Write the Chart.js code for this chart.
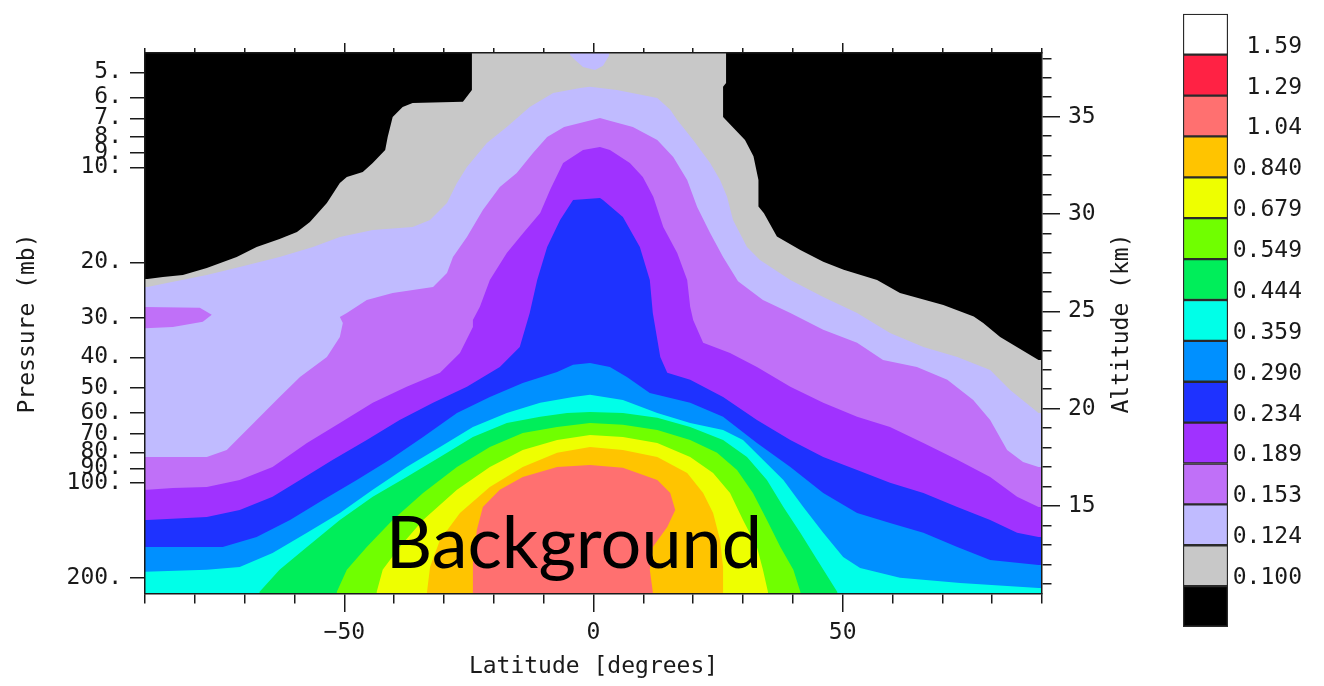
<!DOCTYPE html>
<html>
<head>
<meta charset="utf-8">
<title>Ozone mixing ratio, latitude-pressure section</title>
<script src="https://cdn.jsdelivr.net/npm/chart.js@4.4.1/dist/chart.umd.min.js"></script>
<style>
  html, body { margin: 0; padding: 0; background: #fff; }
  #wrap { position: relative; width: 1324px; height: 686px; overflow: hidden; }
  #main { position: absolute; left: 0; top: 0; }
  #key  { position: absolute; left: 1160px; top: 0; }
</style>
</head>
<body>
<div id="wrap">
  <canvas id="main" width="1324" height="686"></canvas>
  <canvas id="key" width="164" height="686"></canvas>
</div>
<script>
// ---------------------------------------------------------------------------
// Contour levels of the field (class boundaries shown in the colour key)
const LEVEL_VALUES = ['0.100', '0.124', '0.153', '0.189', '0.234', '0.290', '0.359',
                      '0.444', '0.549', '0.679', '0.840', '1.04', '1.29', '1.59'];

// Axis ranges and ticks
const LAT_RANGE      = [-90, 90];
const LAT_TICKS      = [-90, -80, -70, -60, -50, -40, -30, -20, -10, 0, 10, 20, 30, 40, 50, 60, 70, 80, 90];
const LAT_LABELLED   = [-50, 0, 50];
const PRESSURE_RANGE = [4.344, 224.9];          // mb, top to bottom of the panel
const PRESSURE_TICKS = [5, 6, 7, 8, 9, 10, 20, 30, 40, 50, 60, 70, 80, 90, 100, 200];
const ALT_RANGE      = [10.48, 38.27];          // km, bottom to top of the panel
const ALT_TICKS      = [11, 12, 13, 14, 15, 16, 17, 18, 19, 20, 21, 22, 23, 24, 25,
                        26, 27, 28, 29, 30, 31, 32, 33, 34, 35, 36, 37, 38];
const ALT_LABELLED   = [15, 20, 25, 30, 35];

// Filled regions: each polygon encloses the area where the field is at or above
// the named level. Points are [latitude (deg), altitude (km)].
const REGION_0100 = [
  [-92, 26.66], [-89.5, 26.66], [-86.4, 26.77], [-82.4, 26.87], [-77.6, 27.23], [-71.6, 27.79],
  [-67.6, 28.31], [-63.0, 28.72], [-59.5, 29.08], [-56.9, 29.59], [-53.5, 30.57], [-50.9, 31.59],
  [-49.5, 31.90], [-46.3, 32.16], [-44.3, 32.62], [-41.8, 33.29], [-41.3, 33.96], [-40.3, 34.98],
  [-38.3, 35.50], [-36.3, 35.70], [-26.2, 35.76], [-24.4, 36.37], [-24.4, 39],
  [26.6, 39], [26.6, 36.73], [26.0, 36.53], [26.0, 34.98], [30.4, 33.80], [32.1, 32.96],
  [33.1, 31.75], [33.1, 30.39], [34.2, 30.04], [36.8, 28.84], [41.5, 28.15], [46.1, 27.55],
  [50.2, 27.13], [56.9, 26.61], [61.5, 25.94], [70.2, 25.33], [76.3, 24.73], [78.2, 24.40],
  [81.6, 23.68], [89.3, 22.50], [92, 22.50], [92, 9], [-92, 9]
];
const REGION_0124 = [
  [-92, 26.25], [-89.5, 26.25], [-85.6, 26.46], [-77.6, 26.87], [-71.0, 27.28], [-63.0, 27.79],
  [-56.3, 28.31], [-50.9, 28.82], [-44.3, 29.18], [-36.3, 29.33], [-32.8, 29.69], [-29.4, 30.57],
  [-27.4, 31.59], [-25.4, 32.42], [-21.4, 33.65], [-17.4, 34.47], [-12.8, 35.50], [-8.1, 36.22],
  [-2.7, 36.47], [-0.7, 36.53], [4.7, 36.37], [12.8, 35.96], [15.4, 35.35], [16.8, 34.83],
  [20.0, 33.80], [23.4, 32.62], [25.4, 31.75], [26.8, 30.88], [28.0, 29.69], [30.8, 28.31],
  [33.4, 27.64], [39.5, 26.61], [46.1, 25.74], [52.9, 24.92], [59.5, 23.89], [66.2, 23.17],
  [73.0, 22.66], [79.6, 21.99], [83.6, 20.96], [89.3, 19.78], [92, 19.78], [92, 9], [-92, 9]
];
const REGION_0124_CAP = [
  [-4.9, 39], [-4.7, 38.17], [-3.7, 37.91], [-2.1, 37.55], [0.3, 37.40], [1.9, 37.61],
  [3.1, 38.12], [3.3, 39]
];
const REGION_0153 = [
  [-92, 17.52], [-77.6, 17.52], [-73.6, 17.88], [-69.0, 19.06], [-63.0, 20.60], [-58.9, 21.63],
  [-53.5, 22.66], [-50.9, 23.68], [-50.3, 24.40], [-50.9, 24.71], [-49.5, 24.92], [-45.5, 25.58],
  [-40.3, 25.94], [-32.2, 26.25], [-29.4, 26.97], [-28.2, 27.79], [-25.4, 28.82], [-22.2, 30.21],
  [-18.8, 31.39], [-15.4, 32.11], [-12.1, 33.14], [-9.3, 33.96], [-5.9, 34.47], [1.3, 34.93],
  [2.7, 34.83], [7.9, 34.47], [12.8, 33.80], [16.0, 32.93], [18.8, 31.75], [20.8, 30.36],
  [23.4, 29.03], [26.0, 27.79], [29.0, 26.55], [34.0, 25.58], [39.5, 24.92], [46.1, 24.05],
  [52.9, 23.38], [58.1, 22.50], [64.9, 22.14], [71.0, 21.48], [76.2, 20.45], [79.6, 19.42],
  [83.0, 17.88], [86.2, 17.26], [89.3, 17.01], [92, 17.01], [92, 9], [-92, 9]
];
const REGION_0153_ISLAND = [
  [-92, 25.23], [-79.0, 25.18], [-76.6, 24.82], [-78.4, 24.46], [-84.4, 24.20], [-92, 24.10]
];
const REGION_0189 = [
  [-92, 15.83], [-89.5, 15.83], [-84.4, 15.93], [-77.6, 15.98], [-71.0, 16.34], [-64.4, 17.01],
  [-57.5, 18.24], [-50.9, 19.27], [-44.3, 20.30], [-37.5, 21.12], [-30.8, 21.84], [-26.8, 22.86],
  [-24.2, 24.20], [-24.2, 24.56], [-22.8, 25.23], [-20.8, 26.61], [-17.4, 28.00], [-14.1, 29.03],
  [-10.7, 30.05], [-8.7, 31.24], [-6.1, 32.62], [-2.1, 33.29], [1.3, 33.44], [3.3, 33.29],
  [7.3, 32.62], [9.9, 31.90], [12.0, 30.88], [14.0, 29.33], [16.8, 28.00], [18.8, 26.61],
  [19.4, 25.23], [20.0, 24.56], [22.0, 23.38], [27.4, 22.86], [32.8, 22.14], [39.5, 21.12],
  [46.1, 20.30], [52.9, 19.58], [59.5, 19.06], [66.2, 18.24], [73.0, 17.37], [79.6, 16.49],
  [85.0, 15.47], [89.3, 14.95], [92, 14.95], [92, 9], [-92, 9]
];
const REGION_0234 = [
  [-92, 14.28], [-89.5, 14.28], [-77.6, 14.44], [-71.0, 14.80], [-64.4, 15.47], [-58.9, 16.34],
  [-52.3, 17.37], [-45.5, 18.39], [-38.9, 19.42], [-32.2, 20.30], [-25.4, 21.12], [-18.8, 22.14],
  [-14.8, 23.17], [-12.8, 24.92], [-11.3, 26.61], [-9.3, 28.31], [-6.7, 29.69], [-4.1, 30.72],
  [1.3, 30.82], [1.9, 30.72], [5.9, 29.85], [9.3, 28.31], [11.3, 26.61], [11.9, 24.92],
  [13.4, 22.66], [14.8, 21.84], [19.4, 21.48], [26.0, 20.60], [32.8, 19.42], [39.5, 18.39],
  [46.1, 17.52], [52.9, 16.85], [59.5, 16.19], [66.2, 15.67], [73.0, 14.95], [79.6, 14.28],
  [85.0, 13.62], [89.3, 13.41], [92, 13.41], [92, 9], [-92, 9]
];
const REGION_0290 = [
  [-92, 12.90], [-74.4, 12.90], [-67.6, 13.41], [-60.9, 14.28], [-54.3, 15.31], [-47.5, 16.34],
  [-40.9, 17.37], [-34.2, 18.55], [-27.4, 19.78], [-20.8, 20.60], [-14.2, 21.32], [-7.3, 21.89],
  [-4.1, 22.25], [-0.7, 22.35], [3.3, 22.14], [6.7, 21.63], [11.3, 20.81], [19.4, 20.30],
  [26.0, 19.58], [32.8, 18.24], [39.5, 17.01], [46.1, 15.67], [52.9, 14.64], [59.5, 14.13],
  [66.2, 13.62], [73.0, 12.90], [79.6, 12.23], [89.3, 11.97], [92, 11.97], [92, 9], [-92, 9]
];
const REGION_0359 = [
  [-92, 11.61], [-77.6, 11.72], [-71.0, 11.87], [-64.4, 12.59], [-57.5, 13.62], [-50.9, 14.64],
  [-44.3, 15.83], [-37.5, 17.01], [-30.8, 18.03], [-24.2, 19.06], [-17.4, 19.78], [-10.7, 20.30],
  [-4.1, 20.60], [-0.7, 20.71], [5.9, 20.45], [12.8, 19.78], [19.4, 19.27], [26.0, 18.91],
  [30.0, 18.39], [34.0, 17.37], [38.1, 16.34], [42.1, 14.95], [46.1, 13.62], [50.1, 12.38],
  [53.5, 11.82], [61.5, 11.31], [73.6, 11.05], [89.3, 10.79], [92, 10.79], [92, 9], [-92, 9]
];
const REGION_0444 = [
  [-67.4, 9], [-67.0, 10.59], [-63.0, 11.72], [-57.5, 12.90], [-50.9, 14.28], [-44.3, 15.47],
  [-37.5, 16.49], [-30.8, 17.52], [-24.2, 18.55], [-17.4, 19.27], [-10.7, 19.58], [-5.3, 19.78],
  [-0.7, 19.83], [5.9, 19.78], [12.8, 19.53], [19.4, 19.06], [26.0, 18.39], [30.8, 17.52],
  [34.8, 16.34], [38.1, 14.95], [41.5, 13.62], [44.9, 12.23], [48.9, 10.59], [50.0, 9]
];
const REGION_0549 = [
  [-51.5, 9], [-51.5, 10.59], [-49.5, 11.72], [-45.5, 12.90], [-40.3, 14.28], [-34.2, 15.67],
  [-27.4, 17.01], [-20.8, 18.03], [-14.2, 18.75], [-7.3, 19.06], [-0.7, 19.27], [5.9, 19.17],
  [12.8, 18.91], [19.4, 18.39], [24.8, 17.73], [28.8, 16.85], [32.0, 15.67], [34.8, 14.28],
  [37.5, 12.90], [40.1, 11.72], [41.5, 10.59], [42.3, 9]
];
const REGION_0679 = [
  [-43.5, 9], [-43.5, 10.59], [-42.3, 11.72], [-38.9, 12.90], [-34.2, 14.28], [-27.4, 15.83],
  [-20.8, 17.01], [-14.2, 17.88], [-7.3, 18.39], [-0.7, 18.65], [5.9, 18.55], [12.8, 18.24],
  [19.4, 17.52], [24.0, 16.70], [27.4, 15.67], [30.0, 14.28], [32.8, 12.90], [34.0, 11.72],
  [35.0, 10.59], [35.6, 9]
];
const REGION_0840 = [
  [-33.4, 9], [-33.4, 10.59], [-32.8, 11.87], [-30.8, 13.26], [-26.8, 14.64], [-20.8, 15.98],
  [-14.2, 17.01], [-7.3, 17.73], [-0.7, 18.03], [5.9, 17.88], [12.8, 17.52], [18.8, 16.70],
  [22.0, 15.67], [24.0, 14.64], [25.4, 13.26], [26.0, 11.87], [26.0, 10.59], [26.0, 9]
];
const REGION_1040 = [
  [-24.2, 9], [-24.2, 12.08], [-23.4, 13.78], [-22.2, 14.95], [-18.8, 15.83], [-14.2, 16.49],
  [-7.3, 17.01], [-0.7, 17.11], [5.9, 16.96], [12.8, 16.34], [15.4, 15.67], [16.4, 14.80],
  [14.8, 13.92], [11.9, 12.90], [11.3, 11.72], [11.9, 10.59], [11.9, 9]
];

// Text overlaid on the panel, anchored in data coordinates
const PANEL_NOTE = { text: 'Background', lat: -41.7, km: 11.82 };

// ---------------------------------------------------------------------------
// Colour classes, lowest (below 0.100) first
const CLASS_COLORS = ['#000000', '#c8c8c8', '#c0bbff', '#c070f8', '#a032ff', '#1e32ff', '#0090ff',
                      '#00ffe8', '#00ee5a', '#70ff00', '#eeff00', '#ffc400', '#ff7070', '#ff2244', '#ffffff'];
const INK = '#1a1a1a';
const AXIS_FONT = { family: 'DejaVu Sans Mono', size: 23, weight: 'normal' };

// region list: polygon and the colour class it fills (class = level index + 1)
const REGIONS = [
  { pts: REGION_0100, cls: 1 },
  { pts: REGION_0124, cls: 2 },
  { pts: REGION_0124_CAP, cls: 2 },
  { pts: REGION_0153, cls: 3 },
  { pts: REGION_0153_ISLAND, cls: 3 },
  { pts: REGION_0189, cls: 4 },
  { pts: REGION_0234, cls: 5 },
  { pts: REGION_0290, cls: 6 },
  { pts: REGION_0359, cls: 7 },
  { pts: REGION_0444, cls: 8 },
  { pts: REGION_0549, cls: 9 },
  { pts: REGION_0679, cls: 10 },
  { pts: REGION_0840, cls: 11 },
  { pts: REGION_1040, cls: 12 }
];

Chart.defaults.font.family = 'DejaVu Sans Mono';
Chart.defaults.color = INK;

const datasets = REGIONS.map((r, i) => ({
  data: r.pts.map(([x, y]) => ({ x, y })),
  xAxisID: 'x',
  yAxisID: 'yAlt',
  backgroundColor: CLASS_COLORS[r.cls],
  borderColor: 'rgba(0,0,0,0)',
  borderWidth: 0,
  pointRadius: 0,
  tension: 0,
  fill: 'shape',
  order: REGIONS.length - i      // higher levels painted last
}));

// black fill for the "below lowest level" class
const panelBackground = {
  id: 'panelBackground',
  beforeDatasetsDraw(chart) {
    const { ctx, chartArea: a } = chart;
    ctx.save();
    ctx.fillStyle = CLASS_COLORS[0];
    ctx.fillRect(a.left, a.top, a.right - a.left, a.bottom - a.top);
    ctx.restore();
  }
};

// right-hand axis title, reading upward like the left one
const altitudeTitle = {
  id: 'altitudeTitle',
  afterDraw(chart) {
    const s = chart.scales.yAlt;
    const { ctx } = chart;
    ctx.save();
    ctx.translate(s.left + 80, (s.top + s.bottom) / 2);
    ctx.rotate(-Math.PI / 2);
    ctx.font = `${AXIS_FONT.size}px ${AXIS_FONT.family}`;
    ctx.fillStyle = INK;
    ctx.textAlign = 'center';
    ctx.textBaseline = 'middle';
    ctx.fillText('Altitude (km)', 0, 0);
    ctx.restore();
  }
};

const panelNote = {
  id: 'panelNote',
  afterDraw(chart) {
    const { ctx, scales } = chart;
    ctx.save();
    ctx.font = '72px Lato, "Open Sans", sans-serif';
    ctx.fillStyle = '#000';
    ctx.textAlign = 'left';
    ctx.textBaseline = 'alphabetic';
    ctx.fillText(PANEL_NOTE.text, scales.x.getPixelForValue(PANEL_NOTE.lat), scales.yAlt.getPixelForValue(PANEL_NOTE.km));
    ctx.restore();
  }
};

const minorDash = (labelled, dash) => (c) =>
  (c.tick && !labelled.includes(c.tick.value)) ? dash : [];

const border = { display: true, color: INK, width: 1.5, z: 1 };

new Chart(document.getElementById('main'), {
  type: 'line',
  data: { datasets },
  plugins: [panelBackground, altitudeTitle, panelNote],
  options: {
    responsive: false,
    animation: false,
    devicePixelRatio: 1,
    events: [],
    layout: { padding: 0 },
    plugins: { legend: { display: false }, tooltip: { enabled: false } },
    scales: {
      x: {
        type: 'linear', position: 'bottom', min: LAT_RANGE[0], max: LAT_RANGE[1],
        afterBuildTicks: (s) => { s.ticks = LAT_TICKS.map((v) => ({ value: v })); },
        afterFit: (s) => { s.height = 92; },
        grid: { drawOnChartArea: false, color: INK, lineWidth: 1.5, tickLength: 18,
                tickBorderDash: minorDash(LAT_LABELLED, [9, 100]) },
        border,
        ticks: {
          autoSkip: false, maxRotation: 0, padding: 7, color: INK, font: AXIS_FONT,
          callback: (v) => LAT_LABELLED.includes(v) ? String(v).replace('-', '\u2212') : ''
        },
        title: { display: true, text: 'Latitude [degrees]', color: INK, font: AXIS_FONT,
                 padding: { top: 0, bottom: 5 } }
      },
      xTop: {
        type: 'linear', position: 'top', min: LAT_RANGE[0], max: LAT_RANGE[1],
        afterBuildTicks: (s) => { s.ticks = LAT_TICKS.map((v) => ({ value: v })); },
        afterFit: (s) => { s.height = 53; },
        grid: { drawOnChartArea: false, color: INK, lineWidth: 1.5, tickLength: 10,
                tickBorderDash: minorDash(LAT_LABELLED, [0, 5, 5, 100]) },
        border,
        ticks: { display: false }
      },
      yP: {
        type: 'logarithmic', position: 'left', reverse: true,
        min: PRESSURE_RANGE[0], max: PRESSURE_RANGE[1],
        afterBuildTicks: (s) => { s.ticks = PRESSURE_TICKS.map((v) => ({ value: v })); },
        afterFit: (s) => { s.width = 145; },
        grid: { drawOnChartArea: false, color: INK, lineWidth: 1.5, tickLength: 15 },
        border,
        ticks: { autoSkip: false, padding: 8, color: INK, font: AXIS_FONT, callback: (v) => v + '.' },
        title: { display: true, text: 'Pressure (mb)', color: INK, font: AXIS_FONT,
                 padding: { top: 14, bottom: 0 } }
      },
      yAlt: {
        type: 'linear', position: 'right', min: ALT_RANGE[0], max: ALT_RANGE[1],
        afterBuildTicks: (s) => { s.ticks = ALT_TICKS.map((v) => ({ value: v })); },
        afterFit: (s) => { s.width = 282; },
        grid: { drawOnChartArea: false, color: INK, lineWidth: 1.5, tickLength: 18,
                tickBorderDash: minorDash(ALT_LABELLED, [9, 100]) },
        border,
        ticks: { autoSkip: false, padding: 8, color: INK, font: AXIS_FONT,
                 callback: (v) => ALT_LABELLED.includes(v) ? String(v) : '' }
      }
    }
  }
});

// ---------------------------------------------------------------------------
// Colour key: one stacked box per class, level values at the box boundaries
new Chart(document.getElementById('key'), {
  type: 'bar',
  data: {
    labels: [''],
    datasets: CLASS_COLORS.map((c) => ({
      data: [1],
      backgroundColor: c,
      borderColor: '#2a2a2a',
      borderWidth: 1.5,
      borderSkipped: false,
      barPercentage: 1,
      categoryPercentage: 1
    }))
  },
  options: {
    responsive: false,
    animation: false,
    devicePixelRatio: 1,
    events: [],
    layout: { padding: { left: 23, top: 5, right: 22, bottom: 59 } },
    plugins: { legend: { display: false }, tooltip: { enabled: false } },
    scales: {
      x: { stacked: true, display: false },
      y: {
        stacked: true, position: 'right', min: 0, max: CLASS_COLORS.length,
        afterBuildTicks: (s) => { s.ticks = LEVEL_VALUES.map((_, i) => ({ value: i + 1 })); },
        afterFit: (s) => { s.width = 74; },
        grid: { display: false },
        border: { display: false },
        ticks: {
          autoSkip: false, crossAlign: 'far', labelOffset: -8, padding: 0,
          color: INK, font: AXIS_FONT,
          callback: (v) => LEVEL_VALUES[v - 1]
        }
      }
    }
  }
});
</script>
</body>
</html>
